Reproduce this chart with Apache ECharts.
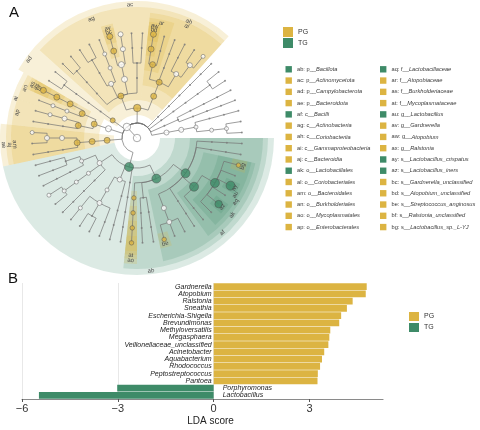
<!DOCTYPE html>
<html>
<head>
<meta charset="utf-8">
<script src="https://cdn.jsdelivr.net/npm/echarts@6/dist/echarts.min.js"></script>
<style>
  html, body { margin: 0; padding: 0; background: #fff; }
  #chart { width: 480px; height: 430px; }
</style>
</head>
<body>
<div id="chart"></div>
<script>
// ---- panel B: LDA scores ----
const ldaTaxa = ['Gardnerella', 'Atopobium', 'Ralstonia', 'Sneathia', 'Escherichia-Shigella', 'Brevundimonas',
  'Methyloversatilis', 'Megasphaera', 'Veillonellaceae_unclassified', 'Acinetobacter', 'Aquabacterium',
  'Rhodococcus', 'Peptostreptococcus', 'Pantoea', 'Porphyromonas', 'Lactobacillus'];
const ldaScores = [4.79, 4.76, 4.35, 4.17, 3.99, 3.93, 3.65, 3.62, 3.59, 3.46, 3.39, 3.33, 3.26, 3.25, -3.02, -5.47];
const ldaGroups = ['PG', 'PG', 'PG', 'PG', 'PG', 'PG', 'PG', 'PG', 'PG', 'PG', 'PG', 'PG', 'PG', 'PG', 'TG', 'TG'];

// ---- panel A: highlighted clades (legend) ----
const cladeCodes = ['ab', 'ac', 'ad', 'ae', 'af', 'ag', 'ah', 'ai', 'aj', 'ak', 'al', 'am', 'an', 'ao', 'ap',
  'aq', 'ar', 'as', 'at', 'au', 'av', 'aw', 'ax', 'ay', 'az', 'bc', 'bd', 'be', 'bf', 'bg'];
const cladeNames = ['p__Bacillota', 'p__Actinomycetota', 'p__Campylobacterota', 'p__Bacteroidota', 'c__Bacilli',
  'c__Actinobacteria', 'c__Coriobacteriia', 'c__Gammaproteobacteria', 'c__Bacteroidia', 'o__Lactobacillales',
  'o__Coriobacteriales', 'o__Bacteroidales', 'o__Burkholderiales', 'o__Mycoplasmatales', 'o__Enterobacterales',
  'f__Lactobacillaceae', 'f__Atopobiaceae', 'f__Burkholderiaceae', 'f__Mycoplasmataceae', 'g__Lactobacillus',
  'g__Gardnerella', 'g__Atopobium', 'g__Ralstonia', 's__Lactobacillus_crispatus', 's__Lactobacillus_iners',
  's__Gardnerella_unclassified', 's__Atopobium_unclassified', 's__Streptococcus_anginosus',
  's__Ralstonia_unclassified', 's__Lactobacillus_sp._L-YJ'];
const cladeGroups = ['TG', 'PG', 'PG', 'PG', 'TG', 'PG', 'PG', 'PG', 'PG', 'TG', 'PG', 'PG', 'PG', 'PG', 'PG',
  'TG', 'PG', 'PG', 'PG', 'TG', 'PG', 'PG', 'PG', 'TG', 'TG', 'PG', 'PG', 'PG', 'PG', 'PG'];
const extraSig = { 'g__Mycoplasma': 'PG', 's__Mycoplasma_hominis': 'PG' };

// taxonomy of the cladogram, one leaf per line, in drawing order
const leafLineages = [
  'p__Fusobacteriota;c__Fusobacteriia;o__Fusobacteriales;f__Leptotrichiaceae;g__Sneathia;s__Sneathia_amnii',
  'p__Fusobacteriota;c__Fusobacteriia;o__Fusobacteriales;f__Leptotrichiaceae;g__Sneathia;s__Sneathia_sanguinegens',
  'p__Fusobacteriota;c__Fusobacteriia;o__Fusobacteriales;f__Fusobacteriaceae;g__Fusobacterium;s__Fusobacterium_nucleatum',
  'p__Deinococcota;c__Deinococci;o__Thermales;f__Thermaceae;g__Thermus;s__Thermus_scotoductus',
  'p__Deinococcota;c__Deinococci;o__Deinococcales;f__Deinococcaceae;g__Deinococcus;s__Deinococcus_sp',
  'p__Verrucomicrobiota;c__Verrucomicrobiae;o__Verrucomicrobiales;f__Akkermansiaceae;g__Akkermansia;s__Akkermansia_muciniphila',
  'p__Verrucomicrobiota;c__Verrucomicrobiae;o__Verrucomicrobiales;f__Akkermansiaceae;g__Akkermansia;s__Akkermansia_sp',
  'p__Chloroflexota;c__Anaerolineae;o__Anaerolineales;f__Anaerolineaceae;g__Anaerolinea;s__Anaerolinea_sp',
  'p__Actinomycetota;c__Coriobacteriia;o__Coriobacteriales;f__Eggerthellaceae;g__Eggerthella;s__Eggerthella_lenta',
  'p__Actinomycetota;c__Coriobacteriia;o__Coriobacteriales;f__Eggerthellaceae;g__Eggerthella;s__Eggerthella_sp',
  'p__Actinomycetota;c__Coriobacteriia;o__Coriobacteriales;f__Eggerthellaceae;g__Slackia;s__Slackia_exigua',
  'p__Actinomycetota;c__Coriobacteriia;o__Coriobacteriales;f__Coriobacteriaceae;g__Collinsella;s__Collinsella_aerofaciens',
  'p__Actinomycetota;c__Coriobacteriia;o__Coriobacteriales;f__Atopobiaceae;g__Olsenella;s__Olsenella_uli',
  'p__Actinomycetota;c__Coriobacteriia;o__Coriobacteriales;f__Atopobiaceae;g__Atopobium;s__Atopobium_unclassified',
  'p__Actinomycetota;c__Actinobacteria;o__Micrococcales;f__Micrococcaceae;g__Micrococcus;s__Micrococcus_luteus',
  'p__Actinomycetota;c__Actinobacteria;o__Micrococcales;f__Micrococcaceae;g__Kocuria;s__Kocuria_rhizophila',
  'p__Actinomycetota;c__Actinobacteria;o__Bifidobacteriales;f__Bifidobacteriaceae;g__Bifidobacterium;s__Bifidobacterium_breve',
  'p__Actinomycetota;c__Actinobacteria;o__Bifidobacteriales;f__Bifidobacteriaceae;g__Gardnerella;s__Gardnerella_unclassified',
  'p__Actinomycetota;c__Actinobacteria;o__Corynebacteriales;f__Nocardiaceae;g__Rhodococcus;s__Rhodococcus_sp',
  'p__Actinomycetota;c__Actinobacteria;o__Corynebacteriales;f__Corynebacteriaceae;g__Corynebacterium;s__Corynebacterium_tuberculostearicum',
  'p__Actinomycetota;c__Actinobacteria;o__Corynebacteriales;f__Corynebacteriaceae;g__Corynebacterium;s__Corynebacterium_sp',
  'p__Actinomycetota;c__Actinobacteria;o__Propionibacteriales;f__Propionibacteriaceae;g__Cutibacterium;s__Cutibacterium_acnes',
  'p__Actinomycetota;c__Actinobacteria;o__Propionibacteriales;f__Propionibacteriaceae;g__Cutibacterium;s__Cutibacterium_sp',
  'p__Campylobacterota;c__Campylobacteria;o__Campylobacterales;f__Campylobacteraceae;g__Campylobacter;s__Campylobacter_ureolyticus',
  'p__Campylobacterota;c__Campylobacteria;o__Campylobacterales;f__Campylobacteraceae;g__Campylobacter;s__Campylobacter_sp',
  'p__Pseudomonadota;c__Gammaproteobacteria;o__Burkholderiales;f__Burkholderiaceae;g__Ralstonia;s__Ralstonia_unclassified',
  'p__Pseudomonadota;c__Gammaproteobacteria;o__Burkholderiales;f__Comamonadaceae;g__Aquabacterium;s__Aquabacterium_sp',
  'p__Pseudomonadota;c__Gammaproteobacteria;o__Enterobacterales;f__Enterobacteriaceae;g__Escherichia-Shigella;s__Escherichia_coli',
  'p__Pseudomonadota;c__Gammaproteobacteria;o__Enterobacterales;f__Erwiniaceae;g__Pantoea;s__Pantoea_sp',
  'p__Bacteroidota;c__Bacteroidia;o__Bacteroidales;f__Prevotellaceae;g__Prevotella;s__Prevotella_bivia',
  'p__Bacteroidota;c__Bacteroidia;o__Bacteroidales;f__Prevotellaceae;g__Prevotella;s__Prevotella_sp',
  'p__Bacteroidota;c__Bacteroidia;o__Bacteroidales;f__Porphyromonadaceae;g__Porphyromonas;s__Porphyromonas_sp',
  'p__Bacillota;c__Clostridia;o__Eubacteriales;f__Lachnospiraceae;g__Blautia;s__Blautia_sp',
  'p__Bacillota;c__Clostridia;o__Eubacteriales;f__Lachnospiraceae;g__Roseburia;s__Roseburia_sp',
  'p__Bacillota;c__Clostridia;o__Eubacteriales;f__Oscillospiraceae;g__Faecalibacterium;s__Faecalibacterium_prausnitzii',
  'p__Bacillota;c__Clostridia;o__Peptostreptococcales;f__Peptostreptococcaceae;g__Peptostreptococcus;s__Peptostreptococcus_anaerobius',
  'p__Bacillota;c__Clostridia;o__Peptostreptococcales;f__Peptostreptococcaceae;g__Peptostreptococcus;s__Peptostreptococcus_sp',
  'p__Bacillota;c__Clostridia;o__Tissierellales;f__Peptoniphilaceae;g__Finegoldia;s__Finegoldia_magna',
  'p__Bacillota;c__Negativicutes;o__Veillonellales;f__Veillonellaceae;g__Megasphaera;s__Megasphaera_sp',
  'p__Bacillota;c__Negativicutes;o__Veillonellales;f__Veillonellaceae;g__Veillonella;s__Veillonella_parvula',
  'p__Bacillota;c__Negativicutes;o__Veillonellales;f__Veillonellaceae;g__Veillonella;s__Veillonella_atypica',
  'p__Bacillota;c__Negativicutes;o__Veillonellales;f__Veillonellaceae;g__Veillonellaceae_unclassified;s__Veillonellaceae_unclassified',
  'p__Bacillota;c__Negativicutes;o__Acidaminococcales;f__Acidaminococcaceae;g__Phascolarctobacterium;s__Phascolarctobacterium_sp',
  'p__Bacillota;c__Erysipelotrichia;o__Erysipelotrichales;f__Erysipelotrichaceae;g__Holdemania;s__Holdemania_sp',
  'p__Bacillota;c__Bacilli;o__Mycoplasmatales;f__Mycoplasmataceae;g__Mycoplasma;s__Mycoplasma_hominis',
  'p__Bacillota;c__Bacilli;o__Bacillales;f__Staphylococcaceae;g__Staphylococcus;s__Staphylococcus_aureus',
  'p__Bacillota;c__Bacilli;o__Bacillales;f__Gemellaceae;g__Gemella;s__Gemella_sanguinis',
  'p__Bacillota;c__Bacilli;o__Lactobacillales;f__Streptococcaceae;g__Streptococcus;s__Streptococcus_anginosus',
  'p__Bacillota;c__Bacilli;o__Lactobacillales;f__Streptococcaceae;g__Streptococcus;s__Streptococcus_agalactiae',
  'p__Bacillota;c__Bacilli;o__Lactobacillales;f__Streptococcaceae;g__Streptococcus;s__Streptococcus_mitis',
  'p__Bacillota;c__Bacilli;o__Lactobacillales;f__Enterococcaceae;g__Enterococcus;s__Enterococcus_faecalis',
  'p__Bacillota;c__Bacilli;o__Lactobacillales;f__Lactobacillaceae;g__Limosilactobacillus;s__Limosilactobacillus_reuteri',
  'p__Bacillota;c__Bacilli;o__Lactobacillales;f__Lactobacillaceae;g__Lactobacillus;s__Lactobacillus_gasseri',
  'p__Bacillota;c__Bacilli;o__Lactobacillales;f__Lactobacillaceae;g__Lactobacillus;s__Lactobacillus_iners',
  'p__Bacillota;c__Bacilli;o__Lactobacillales;f__Lactobacillaceae;g__Lactobacillus;s__Lactobacillus_jensenii',
  'p__Bacillota;c__Bacilli;o__Lactobacillales;f__Lactobacillaceae;g__Lactobacillus;s__Lactobacillus_crispatus',
  'p__Bacillota;c__Bacilli;o__Lactobacillales;f__Lactobacillaceae;g__Lactobacillus;s__Lactobacillus_delbrueckii',
  'p__Bacillota;c__Bacilli;o__Lactobacillales;f__Lactobacillaceae;g__Lactobacillus;s__Lactobacillus_sp._L-YJ',
  'p__Bacillota;c__Bacilli;o__Lactobacillales;f__Aerococcaceae;g__Aerococcus;s__Aerococcus_christensenii',
  'p__Bacillota;c__Bacilli;o__Lactobacillales;f__Carnobacteriaceae;g__Dolosigranulum;s__Dolosigranulum_pigrum'
];

// relative abundance class of nodes (0 = tiny dot)
const nodeAbund = {
  'root': 4, 'k__Bacteria': 4,
  'p__Fusobacteriota': 2, 'c__Fusobacteriia': 2, 'o__Fusobacteriales': 1, 'f__Leptotrichiaceae': 1, 'g__Sneathia': 1,
  'p__Actinomycetota': 4, 'c__Coriobacteriia': 3, 'o__Coriobacteriales': 3, 'f__Eggerthellaceae': 2,
  'g__Eggerthella': 2, 's__Eggerthella_lenta': 1, 'f__Atopobiaceae': 3, 'g__Atopobium': 3, 's__Atopobium_unclassified': 3,
  'c__Actinobacteria': 3, 'o__Bifidobacteriales': 3, 'f__Bifidobacteriaceae': 3, 'g__Bifidobacterium': 2,
  's__Bifidobacterium_breve': 2, 'g__Gardnerella': 3, 's__Gardnerella_unclassified': 3,
  'o__Corynebacteriales': 2, 'f__Nocardiaceae': 1, 'g__Rhodococcus': 1, 'p__Campylobacterota': 2,
  'p__Pseudomonadota': 3, 'c__Gammaproteobacteria': 3, 'o__Burkholderiales': 3, 'f__Burkholderiaceae': 3,
  'g__Ralstonia': 3, 's__Ralstonia_unclassified': 3, 'f__Comamonadaceae': 1, 'g__Aquabacterium': 1,
  'o__Enterobacterales': 3, 'f__Enterobacteriaceae': 2, 'g__Escherichia-Shigella': 1,
  'p__Bacteroidota': 3, 'c__Bacteroidia': 3, 'o__Bacteroidales': 3, 'f__Prevotellaceae': 2, 'g__Prevotella': 2,
  's__Prevotella_bivia': 1, 'p__Bacillota': 5, 'c__Clostridia': 2, 'o__Eubacteriales': 1,
  'o__Peptostreptococcales': 1, 'f__Peptostreptococcaceae': 1, 'g__Peptostreptococcus': 1,
  's__Peptostreptococcus_anaerobius': 1, 'c__Negativicutes': 2, 'o__Veillonellales': 1, 'f__Veillonellaceae': 2,
  'g__Megasphaera': 1, 'c__Bacilli': 5, 'o__Mycoplasmatales': 1, 'f__Mycoplasmataceae': 1, 'g__Mycoplasma': 1,
  's__Mycoplasma_hominis': 1, 'o__Lactobacillales': 5, 'f__Streptococcaceae': 2, 'g__Streptococcus': 2,
  's__Streptococcus_anginosus': 1, 'f__Lactobacillaceae': 5, 'g__Lactobacillus': 5, 's__Lactobacillus_iners': 4,
  's__Lactobacillus_crispatus': 5, 's__Lactobacillus_sp._L-YJ': 1
};

const FONT = 'Liberation Sans, Arial, sans-serif';
const PG_COLOR = '#DCB442';
const TG_COLOR = '#3E8B68';
const WEDGE_FILL = ['rgba(218,180,62,0.2)', 'rgba(62,140,104,0.18)'];
const EDGE_COLOR = '#727272';
const D2R = Math.PI / 180;
const R_MAX = 140;
const LEVEL_R = [0, 15, 30, 45, 60, 75, 90, 105];       // root, kingdom, p, c, o, f, g, s
const WEDGE_OUT = [0, 0, 137, 131, 126, 121, 117, 113];
const DOT = [2, 4, 5, 6, 7.5, 9];

// build the tree
const groupOf = {}, codeOf = {};
cladeNames.forEach((nm, i) => { groupOf[nm] = cladeGroups[i]; codeOf[nm] = cladeCodes[i]; });
Object.keys(extraSig).forEach(nm => { groupOf[nm] = extraSig[nm]; });

const root = { name: 'root', level: 0, kids: [] };
const kingdom = { name: 'k__Bacteria', level: 1, kids: [] };
root.kids.push(kingdom);
const byName = {};
leafLineages.forEach(line => {
  let cur = kingdom;
  line.split(';').forEach((nm, i) => {
    if (!byName[nm]) {
      byName[nm] = { name: nm, level: i + 2, kids: [] };
      cur.kids.push(byName[nm]);
    }
    cur = byName[nm];
  });
});

const leaves = [];
(function collect(n) { if (!n.kids.length) leaves.push(n); n.kids.forEach(collect); })(root);
const step = 360 / leaves.length;
leaves.forEach((n, i) => { n.angle = step * (i + 0.5); n.a0 = step * i; n.a1 = step * (i + 1); });
(function place(n) {
  if (!n.kids.length) return;
  n.kids.forEach(place);
  const f = n.kids[0], l = n.kids[n.kids.length - 1];
  n.angle = (f.angle + l.angle) / 2;
  n.a0 = f.a0; n.a1 = l.a1;
})(root);

const wedgeData = [], edgeData = [], nodeData = [], labelData = [], labelTexts = [];
(function walk(n) {
  const r = LEVEL_R[n.level];
  const grp = groupOf[n.name] || '';
  if (grp) wedgeData.push([r - 7, WEDGE_OUT[n.level], n.a0, n.a1, grp === 'PG' ? 0 : 1, n.level]);
  if (codeOf[n.name]) {
    labelTexts.push(codeOf[n.name]);
    labelData.push([WEDGE_OUT[n.level] - 3.5, (n.a0 + n.a1) / 2, labelTexts.length - 1]);
  }
  n.kids.forEach(c => { edgeData.push([r, n.angle, LEVEL_R[c.level], c.angle]); walk(c); });
  const ab = nodeAbund[n.name] || 0;
  let style, size = DOT[ab];
  if (grp) {
    style = { color: grp === 'PG' ? PG_COLOR : TG_COLOR, borderColor: '#4d4d4d', borderWidth: 0.6 };
    size = Math.max(size, 4.5);
  } else if (ab > 0) {
    style = { color: '#fff', borderColor: '#6a6a6a', borderWidth: 0.7 };
  } else {
    style = { color: '#7a7a7a', borderWidth: 0 };
  }
  nodeData.push({ value: [r, n.level ? n.angle : 0], symbolSize: size, itemStyle: style });
})(root);
wedgeData.sort((a, b) => a[5] - b[5]);

function renderWedge(params, api) {
  const cs = params.coordSys, k = (cs.r - cs.r0) / R_MAX;
  const a0 = api.value(2), a1 = api.value(3);
  return {
    type: 'sector',
    shape: { cx: cs.cx, cy: cs.cy, r0: api.value(0) * k, r: api.value(1) * k,
      startAngle: -a1 * D2R, endAngle: -a0 * D2R, clockwise: true },
    style: { fill: WEDGE_FILL[api.value(4)] }
  };
}

function renderEdge(params, api) {
  const cs = params.coordSys, k = (cs.r - cs.r0) / R_MAX;
  const rp = api.value(0), ap = api.value(1), rc = api.value(2), ac = api.value(3);
  const p1 = api.coord([rp, ac]), p2 = api.coord([rc, ac]);
  const kids = [{ type: 'line', shape: { x1: p1[0], y1: p1[1], x2: p2[0], y2: p2[1] },
    style: { stroke: EDGE_COLOR, lineWidth: 0.7 } }];
  if (rp > 0 && Math.abs(ap - ac) > 0.01) {
    const lo = Math.min(ap, ac), hi = Math.max(ap, ac);
    kids.push({ type: 'arc', shape: { cx: cs.cx, cy: cs.cy, r: rp * k, startAngle: -hi * D2R, endAngle: -lo * D2R, clockwise: true },
      style: { stroke: EDGE_COLOR, lineWidth: 0.7, fill: null } });
  }
  return { type: 'group', children: kids };
}

function renderLabel(params, api) {
  const r = api.value(0), a = api.value(1);
  const p = api.coord([r, a]);
  const rot = (a <= 180 ? a - 90 : a + 90) * D2R;
  return {
    type: 'text', x: p[0], y: p[1], rotation: rot,
    style: { text: labelTexts[api.value(2)], fill: '#4a4a4a', fontSize: 6, fontFamily: FONT,
      align: 'center', verticalAlign: 'middle' }
  };
}

// legend of clade codes
const legendGraphics = [];
cladeCodes.forEach((code, i) => {
  const col = i < 15 ? 0 : 1, row = i % 15;
  const x = col ? 380 : 285.5, y = 69.3 + row * 11.27;
  const nm = cladeNames[i];
  legendGraphics.push({ type: 'rect', shape: { x: x, y: y - 3.2, width: 6.4, height: 6.4 },
    style: { fill: cladeGroups[i] === 'PG' ? PG_COLOR : TG_COLOR } });
  legendGraphics.push({ type: 'text', x: x + 11.5, y: y,
    style: { text: '{n|' + code + ': ' + nm.slice(0, 3) + '}{i|' + nm.slice(3) + '}', verticalAlign: 'middle',
      rich: { n: { fontSize: 5.7, fill: '#3a3a3a', fontFamily: FONT },
              i: { fontSize: 5.7, fill: '#3a3a3a', fontFamily: FONT, fontStyle: 'italic' } } } });
});

const pgVals = ldaScores.map((v, i) => ldaGroups[i] === 'PG' ? v : '-');
const tgVals = ldaScores.map((v, i) => ldaGroups[i] === 'TG' ? v : '-');
const barLabel = { show: true, formatter: p => p.name, fontSize: 7, fontStyle: 'italic', color: '#222', fontFamily: FONT };

const chart = echarts.init(document.getElementById('chart'));
chart.setOption({
  animation: false,
  textStyle: { fontFamily: FONT },
  title: [
    { text: 'A', left: 9, top: 5, padding: 0, textStyle: { fontSize: 15, fontWeight: 'normal', color: '#111', fontFamily: FONT } },
    { text: 'B', left: 8, top: 271, padding: 0, textStyle: { fontSize: 15, fontWeight: 'normal', color: '#111', fontFamily: FONT } }
  ],
  legend: [
    { data: ['PG', 'TG'], left: 283, top: 27, padding: 0, orient: 'vertical', icon: 'rect', itemWidth: 10, itemHeight: 10,
      itemGap: 1, selectedMode: false, textStyle: { fontSize: 7, color: '#333', fontFamily: FONT } },
    { data: ['PG', 'TG'], left: 409, top: 312, padding: 0, orient: 'vertical', icon: 'rect', itemWidth: 10, itemHeight: 9,
      itemGap: 2, selectedMode: false, textStyle: { fontSize: 7, color: '#333', fontFamily: FONT } }
  ],
  polar: { center: [137, 138], radius: [0, R_MAX] },
  angleAxis: { type: 'value', min: 0, max: 360, startAngle: 0, clockwise: false, show: false,
    axisLine: { show: false }, axisTick: { show: false }, axisLabel: { show: false }, splitLine: { show: false } },
  radiusAxis: { type: 'value', min: 0, max: R_MAX, show: false,
    axisLine: { show: false }, axisTick: { show: false }, axisLabel: { show: false }, splitLine: { show: false } },
  grid: { left: 22, right: 97, top: 283, bottom: 31 },
  xAxis: {
    type: 'value', min: -6, max: 5.3, interval: 3,
    axisLine: { show: true, onZero: false, lineStyle: { color: '#8a8a8a', width: 1.2 } },
    axisTick: { show: true, customValues: [-6, -3, 0, 3], length: 3, lineStyle: { color: '#555' } },
    axisLabel: { customValues: [-6, -3, 0, 3], fontSize: 11, color: '#333', margin: 4,
      formatter: v => v < 0 ? '\u2212' + Math.abs(v) : String(v) },
    splitLine: { show: true, showMaxLine: false, lineStyle: { color: '#e2e2e2', width: 0.8 } },
    name: 'LDA score', nameLocation: 'middle', nameGap: 17,
    nameTextStyle: { fontSize: 10, color: '#222', padding: [0, 0, 0, 16] }
  },
  yAxis: { type: 'category', data: ldaTaxa, inverse: true, show: false },
  graphic: legendGraphics,
  series: [
    { type: 'custom', coordinateSystem: 'polar', renderItem: renderWedge, data: wedgeData, z: 1, silent: true,
      encode: { radius: 0, angle: 2 } },
    { type: 'custom', coordinateSystem: 'polar', renderItem: renderEdge, data: edgeData, z: 2, silent: true,
      encode: { radius: 0, angle: 1 } },
    { type: 'scatter', coordinateSystem: 'polar', data: nodeData, z: 3, silent: true, symbol: 'circle' },
    { type: 'custom', coordinateSystem: 'polar', renderItem: renderLabel, data: labelData, z: 4, silent: true,
      encode: { radius: 0, angle: 1 } },
    { name: 'PG', type: 'bar', data: pgVals, barGap: '-100%', barCategoryGap: '6%',
      itemStyle: { color: PG_COLOR }, label: Object.assign({ position: 'left', distance: 2 }, barLabel) },
    { name: 'TG', type: 'bar', data: tgVals, barGap: '-100%', barCategoryGap: '6%',
      itemStyle: { color: TG_COLOR }, label: Object.assign({ position: 'right', distance: 9 }, barLabel) }
  ]
});
</script>
</body>
</html>
